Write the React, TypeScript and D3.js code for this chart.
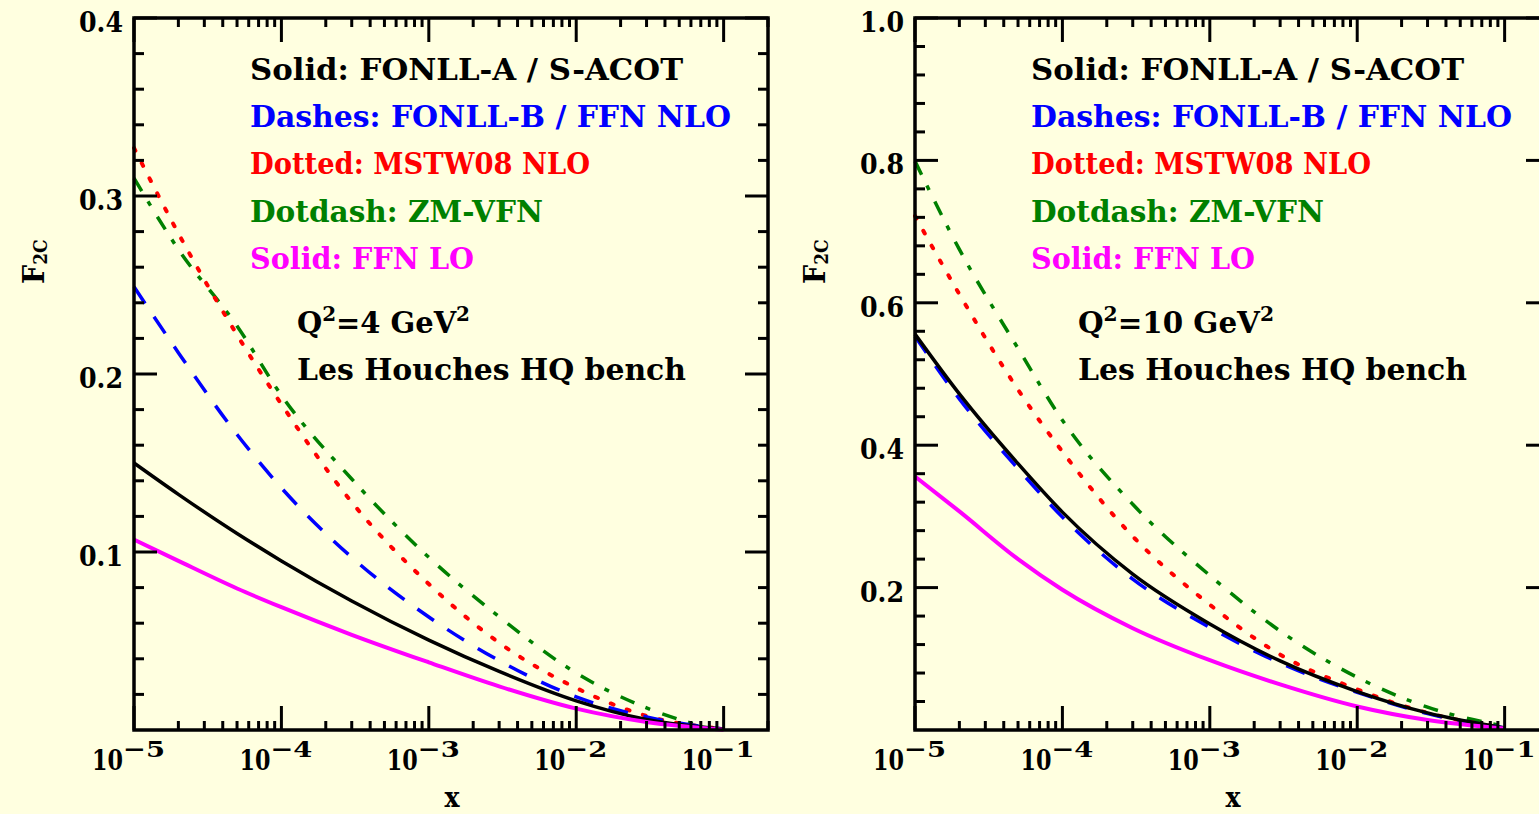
import React from 'react';
import * as d3 from 'd3';

// ---------- data ----------
const xs = [1e-5, 2e-5, 5e-5, 1e-4, 3e-4, 1e-3, 3e-3, 1e-2, 3e-2, 1e-1];
const xsZM4 = [1e-5, 2e-5, 5e-5, 1e-4, 3e-4, 1e-3, 3e-3, 1e-2, 3e-2, 6.5e-2];
const xsZM10 = [1e-5, 2e-5, 5e-5, 1e-4, 3e-4, 1e-3, 3e-3, 1e-2, 3e-2, 9e-2];

// Q^2 = 4 GeV^2
const fonllA4 = [0.150, 0.1324, 0.1104, 0.095, 0.0725, 0.0505, 0.0329, 0.0164, 0.0059, 0.0005];
const fonllB4 = [0.249, 0.212, 0.166, 0.136, 0.097, 0.0635, 0.039, 0.0186, 0.0073, 0.0005];
const mstw4 = [0.327, 0.279, 0.222, 0.183, 0.128, 0.082, 0.049, 0.0236, 0.0079, 0.0005];
const zmvfn4 = [0.310, 0.270, 0.227, 0.188, 0.141, 0.097, 0.0636, 0.032, 0.0124, 0.003];
const ffnLO4 = [0.107, 0.095, 0.0795, 0.069, 0.0535, 0.038, 0.0245, 0.012, 0.0045, 0.0002];

// Q^2 = 10 GeV^2
const fonllA10 = [0.556, 0.472, 0.374, 0.306, 0.219, 0.149, 0.097, 0.054, 0.024, 0.003];
const fonllB10 = [0.553, 0.465, 0.367, 0.299, 0.212, 0.144, 0.094, 0.053, 0.023, 0.003];
const mstw10 = [0.722, 0.612, 0.478, 0.391, 0.272, 0.176, 0.106, 0.057, 0.024, 0.003];
const zmvfn10 = [0.799, 0.675, 0.536, 0.435, 0.317, 0.217, 0.139, 0.074, 0.032, 0.007];
const ffnLO10 = [0.356, 0.307, 0.240, 0.197, 0.143, 0.098, 0.064, 0.033, 0.014, 0.002];

const xDecades = [-5, -4, -3, -2, -1];
const legendLines = [
  { text: 'Solid: FONLL-A / S-ACOT', color: '#000000' },
  { text: 'Dashes: FONLL-B / FFN NLO', color: '#0000ff' },
  { text: 'Dotted: MSTW08 NLO', color: '#ff0000' },
  { text: 'Dotdash: ZM-VFN', color: '#008000' },
  { text: 'Solid: FFN LO', color: '#ff00ff' },
];
const legendWidths = [433, 481, 340, 293, 224];
const benchText = 'Les Houches HQ bench';

// ---------- styles ----------
const FONT = "'DejaVu Serif Condensed', 'DejaVu Serif', serif";
const BG = '#ffffe0';
const W = 634;
const TOP = 18;
const BOT = 730;

type Series = { xs: number[]; ys: number[]; color: string; width: number; dash?: string; cap?: string };

function Panel(props: {
  ox: number;
  yMax: number;
  majorStep: number;
  minorStep: number;
  series: Series[];
  qValue: string;
  qWidth: number;
}) {
  const { ox, yMax, majorStep, minorStep, series, qValue, qWidth } = props;
  const x = d3.scaleLog().domain([1e-5, 0.2]).range([ox, ox + W]);
  const y = d3.scaleLinear().domain([0, yMax]).range([BOT, TOP]);
  const line = d3
    .line<[number, number]>()
    .x((d) => x(d[0]))
    .y((d) => y(d[1]))
    .curve(d3.curveMonotoneX);

  const xTicks: { v: number; major: boolean }[] = [];
  xDecades.forEach((d) => {
    for (let k = 1; k <= 9; k++) {
      const v = k * Math.pow(10, d);
      if (v <= 0.2 + 1e-12) xTicks.push({ v, major: k === 1 });
    }
  });
  const nMinor = Math.round(yMax / minorStep);
  const yTicks = d3.range(1, nMinor + 1).map((i) => {
    const v = i * minorStep;
    const major = Math.abs(v / majorStep - Math.round(v / majorStep)) < 1e-6;
    return { v, major };
  });

  const tk = 3;
  return (
    <g>
      {/* curves */}
      {series.map((s, i) => (
        <path
          key={i}
          d={line(s.xs.map((xv, j) => [xv, s.ys[j]] as [number, number])) || ''}
          fill="none"
          stroke={s.color}
          strokeWidth={s.width}
          strokeDasharray={s.dash}
          strokeLinecap={(s.cap as any) || 'butt'}
        />
      ))}
      {/* frame */}
      <rect x={ox} y={TOP} width={W} height={BOT - TOP} fill="none" stroke="#000" strokeWidth={3.5} />
      {/* x ticks bottom & top */}
      {xTicks.map((t, i) => {
        const px = x(t.v);
        const len = t.major ? 24 : 9;
        return (
          <g key={'xt' + i}>
            <line x1={px} x2={px} y1={BOT} y2={BOT - len} stroke="#000" strokeWidth={tk} />
            <line x1={px} x2={px} y1={TOP} y2={TOP + len} stroke="#000" strokeWidth={tk} />
          </g>
        );
      })}
      {/* y ticks left & right */}
      {yTicks.map((t, i) => {
        const py = y(t.v);
        const len = t.major ? 23 : 10;
        return (
          <g key={'yt' + i}>
            <line x1={ox} x2={ox + len} y1={py} y2={py} stroke="#000" strokeWidth={tk} />
            <line x1={ox + W} x2={ox + W - len} y1={py} y2={py} stroke="#000" strokeWidth={tk} />
          </g>
        );
      })}
      {/* y tick labels */}
      {yTicks
        .filter((t) => t.major)
        .map((t, i) => (
          <text
            key={'yl' + i}
            x={ox - 11}
            y={y(t.v) + 14}
            textAnchor="end"
            fontFamily={FONT}
            fontWeight="bold"
            fontSize={27}
            textLength={44}
            lengthAdjust="spacingAndGlyphs"
          >
            {d3.format('.1f')(t.v)}
          </text>
        ))}
      {/* x tick labels */}
      {xDecades.map((d, i) => {
        const px = x(Math.pow(10, d));
        return (
          <g key={'xl' + i}>
            <text
              x={px - 42}
              y={770}
              fontFamily={FONT}
              fontWeight="bold"
              fontSize={28}
              textLength={31}
              lengthAdjust="spacingAndGlyphs"
            >
              10
            </text>
            <text
              x={px - 11}
              y={757}
              fontFamily={FONT}
              fontWeight="bold"
              fontSize={23}
              textLength={42}
              lengthAdjust="spacingAndGlyphs"
            >
              {'\u2212' + Math.abs(d)}
            </text>
          </g>
        );
      })}
      {/* axis titles */}
      <text x={ox + 318} y={807} textAnchor="middle" fontFamily={FONT} fontWeight="bold" fontSize={28}>
        x
      </text>
      <text
        transform={`translate(${ox - 90},284) rotate(-90)`}
        fontFamily={FONT}
        fontWeight="bold"
        fontSize={30}
      >
        F
        <tspan fontSize={19} dy={3}>
          2C
        </tspan>
      </text>
      {/* legend */}
      {legendLines.map((l, i) => (
        <text
          key={'lg' + i}
          x={ox + 116}
          y={80 + i * 47.2}
          fill={l.color}
          fontFamily={FONT}
          fontWeight="bold"
          fontSize={29}
          textLength={legendWidths[i]}
          lengthAdjust="spacingAndGlyphs"
        >
          {l.text}
        </text>
      ))}
      <text
        x={ox + 163}
        y={333}
        fontFamily={FONT}
        fontWeight="bold"
        fontSize={29}
        textLength={qWidth}
        lengthAdjust="spacingAndGlyphs"
      >
        Q
        <tspan fontSize={20} dy={-12}>
          2
        </tspan>
        <tspan dy={12}>{'=' + qValue + ' GeV'}</tspan>
        <tspan fontSize={20} dy={-12}>
          2
        </tspan>
      </text>
      <text
        x={ox + 163}
        y={380}
        fontFamily={FONT}
        fontWeight="bold"
        fontSize={29}
        textLength={389}
        lengthAdjust="spacingAndGlyphs"
      >
        {benchText}
      </text>
    </g>
  );
}

function makeSeries(a: number[], b: number[], m: number[], z: number[], zx: number[], lo: number[]): Series[] {
  return [
    { xs: zx, ys: z, color: '#008000', width: 3.5, dash: '15,12,5,13' },
    { xs, ys: m, color: '#ff0000', width: 4, dash: '3,14', cap: 'round' },
    { xs, ys: b, color: '#0000ff', width: 3.5, dash: '20,16' },
    { xs, ys: a, color: '#000000', width: 3.5 },
    { xs, ys: lo, color: '#ff00ff', width: 4 },
  ];
}

export default function App() {
  const left = makeSeries(fonllA4, fonllB4, mstw4, zmvfn4, xsZM4, ffnLO4);
  const right = makeSeries(fonllA10, fonllB10, mstw10, zmvfn10, xsZM10, ffnLO10);
  return (
    <svg
      width={1539}
      height={814}
      style={{ position: 'absolute', left: 0, top: 0, display: 'block' }}
    >
      <rect x={0} y={0} width={1539} height={814} fill={BG} />
      <Panel ox={134} yMax={0.4} majorStep={0.1} minorStep={0.02} series={left} qValue="4" qWidth={173} />
      <Panel ox={915} yMax={1.0} majorStep={0.2} minorStep={0.04} series={right} qValue="10" qWidth={196} />
    </svg>
  );
}
